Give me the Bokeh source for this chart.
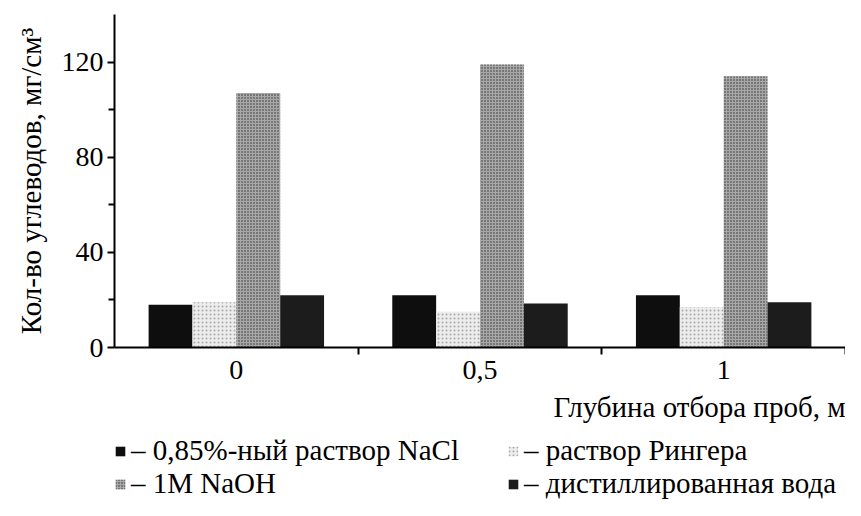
from bokeh.plotting import figure
from bokeh.layouts import column
from bokeh.models import FixedTicker, Legend, LegendItem, Title, ColumnDataSource, Range1d
from bokeh.embed import file_html
from bokeh.resources import INLINE

depths = ["0", "0,5", "1"]
nacl = [18, 22, 22]
ringer = [19, 15, 17]
naoh = [107, 119, 114]
water = [22, 18.5, 19]
series_names = ["– 0,85%-ный раствор NaCl", "– раствор Рингера", "– 1M NaOH", "– дистиллированная вода"]
y_ticks = [0, 40, 80, 120]
y_minor = [20, 60, 100]

FONT = "Liberation Serif"
centers = [i + 0.5 for i in range(len(depths))]
series = [nacl, ringer, naoh, water]

p = figure(width=845, height=433, output_backend="svg", toolbar_location=None,
           x_range=Range1d(0, 3), y_range=Range1d(0, 140),
           min_border_left=114, min_border_right=0, min_border_top=14, min_border_bottom=86)
p.outline_line_color = None
p.grid.visible = False

styles = [
    dict(fill_color="#0e0e0e", line_color=None),
    dict(fill_color="#ececec", line_color=None, hatch_pattern="dot", hatch_color="#aaaaaa", hatch_scale=4),
    dict(fill_color="#a8a8a8", line_color=None, hatch_pattern="dot", hatch_color="#2a2a2a", hatch_scale=3),
    dict(fill_color="#1c1c1c", line_color=None),
]
offsets = [-0.27, -0.09, 0.09, 0.27]
for vals, off, st in zip(series, offsets, styles):
    src = ColumnDataSource(dict(x=[c + off for c in centers], top=vals))
    p.vbar(x="x", top="top", width=0.18, source=src, **st)

# x axis
xa = p.xaxis[0]
xa.ticker = FixedTicker(ticks=centers, minor_ticks=[1, 2, 3])
xa.major_label_overrides = {c: d for c, d in zip(centers, depths)}
xa.major_tick_line_color = None
xa.major_tick_in = 0
xa.major_tick_out = 0
xa.minor_tick_in = 0
xa.minor_tick_out = 7
xa.minor_tick_line_width = 2
xa.axis_line_width = 2
xa.major_label_text_font = FONT
xa.major_label_text_font_size = "28px"
xa.major_label_text_color = "black"
xa.major_label_standoff = 6

ya = p.yaxis[0]
ya.ticker = FixedTicker(ticks=y_ticks, minor_ticks=y_minor)
ya.major_tick_in = 0
ya.major_tick_out = 7
ya.minor_tick_in = 0
ya.minor_tick_out = 6
ya.major_tick_line_width = 2
ya.minor_tick_line_width = 2
ya.axis_line_width = 2
ya.major_label_text_font = FONT
ya.major_label_text_font_size = "28px"
ya.major_label_text_color = "black"
ya.major_label_standoff = 4
ya.axis_label = "Кол-во углеводов, мг/см³"
ya.axis_label_text_font = FONT
ya.axis_label_text_font_size = "29px"
ya.axis_label_text_font_style = "normal"
ya.axis_label_text_color = "black"
ya.axis_label_standoff = 12

xt = Title(text="Глубина отбора проб, м", align="right", text_font=FONT,
           text_font_size="29px", text_font_style="normal", text_color="black",
           standoff=14, offset=0)
p.add_layout(xt, "below")

# legend panel (its frame is aligned with the chart frame by the column layout)
p2 = figure(width=845, height=67, output_backend="svg", toolbar_location=None,
            x_range=Range1d(0, 3), y_range=Range1d(0, 140),
            x_axis_type=None, y_axis_type=None,
            min_border_left=114, min_border_right=0, min_border_top=0, min_border_bottom=0)
p2.outline_line_color = None
p2.grid.visible = False
leg_renderers = []
for vals, off, st in zip(series, offsets, styles):
    src = ColumnDataSource(dict(x=[c + off for c in centers], top=vals))
    r = p2.vbar(x="x", top="top", width=0.18, source=src, visible=False, **st)
    leg_renderers.append(r)

legend_pos = [(0, 33), (393, 33), (0, 0), (393, 0)]
for name, r, loc in zip(series_names, leg_renderers, legend_pos):
    lg = Legend(items=[LegendItem(label=name, renderers=[r])], location=loc,
                label_text_font=FONT, label_text_font_size="29px", label_text_color="black",
                glyph_width=12, glyph_height=12, label_standoff=5,
                inactive_fill_alpha=0,
                border_line_color=None, background_fill_alpha=0, padding=0, margin=0)
    p2.add_layout(lg, "center")

layout = column(p, p2, spacing=0)
open("out.html", "w").write(file_html(layout, INLINE))
